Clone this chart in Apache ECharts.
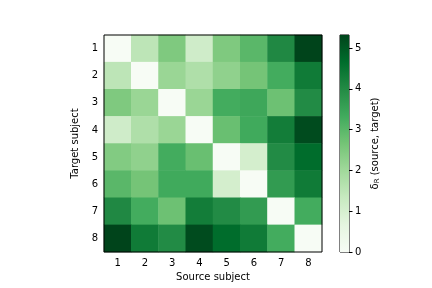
<!DOCTYPE html>
<html><head><meta charset="utf-8">
<script src="https://cdn.jsdelivr.net/npm/echarts@6/dist/echarts.min.js"></script>
<style>html,body{margin:0;padding:0;background:#fff}#c{width:432px;height:288px}</style>
</head><body><div id="c"></div>
<script>
const sources = ['1','2','3','4','5','6','7','8'];
const targets = ['1','2','3','4','5','6','7','8'];
// rows = target subject, columns = source subject
const row1 = [0.00, 1.50, 2.50, 1.15, 2.50, 3.00, 4.05, 5.32];
const row2 = [1.50, 0.00, 2.10, 1.75, 2.25, 2.65, 3.30, 4.35];
const row3 = [2.50, 2.10, 0.00, 2.10, 3.30, 3.40, 2.75, 4.00];
const row4 = [1.15, 1.75, 2.10, 0.00, 2.80, 3.35, 4.30, 5.20];
const row5 = [2.45, 2.25, 3.30, 2.80, 0.00, 1.05, 4.00, 4.65];
const row6 = [3.00, 2.65, 3.35, 3.35, 1.05, 0.00, 3.65, 4.35];
const row7 = [4.05, 3.30, 2.75, 4.30, 4.00, 3.65, 0.00, 3.30];
const row8 = [5.32, 4.35, 4.00, 5.20, 4.65, 4.35, 3.30, 0.00];
const vMax = 5.32;
const cbTicks = [0, 1, 2, 3, 4, 5];

const rows = [row1,row2,row3,row4,row5,row6,row7,row8];
const data = [];
rows.forEach((r, i) => r.forEach((v, j) => data.push([j, i, v])));

const greens = ['#f7fcf5','#e5f5e0','#c7e9c0','#a1d99b','#74c476','#41ab5d','#238b45','#006d2c','#00441b'];
const font = 'DejaVu Sans';
const txt = {color:'#000', fontFamily: font, fontSize: 10};
const chart = echarts.init(document.getElementById('c'), null, {renderer:'canvas'});
chart.setOption({
  animation: false,
  backgroundColor: '#fff',
  grid: [
    {left:104, top:35, width:218, height:217, show:true, borderColor:'#000', borderWidth:1, z:10},
    {left:340, top:35, width:9, height:217, show:true, borderColor:'#000', borderWidth:1}
  ],
  xAxis: [
    {gridIndex:0, type:'category', data:sources, position:'bottom',
     name:'Source subject', nameLocation:'middle', nameGap:19, nameTextStyle:txt,
     axisLine:{show:false}, axisTick:{alignWithLabel:true, length:3.5, lineStyle:{color:'#000'}},
     axisLabel:Object.assign({margin:6}, txt), splitLine:{show:false}},
    {gridIndex:1, type:'category', data:['c'], show:false}
  ],
  yAxis: [
    {gridIndex:0, type:'category', data:targets, inverse:true,
     name:'Target subject', nameLocation:'middle', nameGap:17, nameRotate:90, nameTextStyle:txt,
     axisLine:{show:false}, axisTick:{alignWithLabel:true, length:3.5, lineStyle:{color:'#000'}},
     axisLabel:Object.assign({margin:6}, txt), splitLine:{show:false}},
    {gridIndex:1, type:'value', min:0, max:vMax, position:'right',
     name:'{a|δ}{s|R} (source, target)', nameLocation:'middle', nameGap:20, nameRotate:90,
     nameTextStyle:Object.assign({rich:{a:{fontFamily:font,fontSize:10,color:'#000'}, s:{fontFamily:font,fontSize:7,color:'#000',verticalAlign:'bottom',padding:[5,0,0,0]}}}, txt),
     axisLine:{show:false}, splitLine:{show:false},
     axisTick:{show:true, length:3.5, customValues:cbTicks, lineStyle:{color:'#000'}},
     axisLabel:Object.assign({margin:6, customValues:cbTicks}, txt)}
  ],
  visualMap: {show:false, min:0, max:vMax, seriesIndex:0, inRange:{color:greens}},
  series: [
    {type:'heatmap', xAxisIndex:0, yAxisIndex:0, data:data, itemStyle:{borderWidth:0}, emphasis:{disabled:true}},
    {type:'bar', xAxisIndex:1, yAxisIndex:1, data:[vMax], barWidth:'100%',
     itemStyle:{color:new echarts.graphic.LinearGradient(0,1,0,0, greens.map((c,i)=>({offset:i/(greens.length-1), color:c})))}}
  ]
});
</script></body></html>
